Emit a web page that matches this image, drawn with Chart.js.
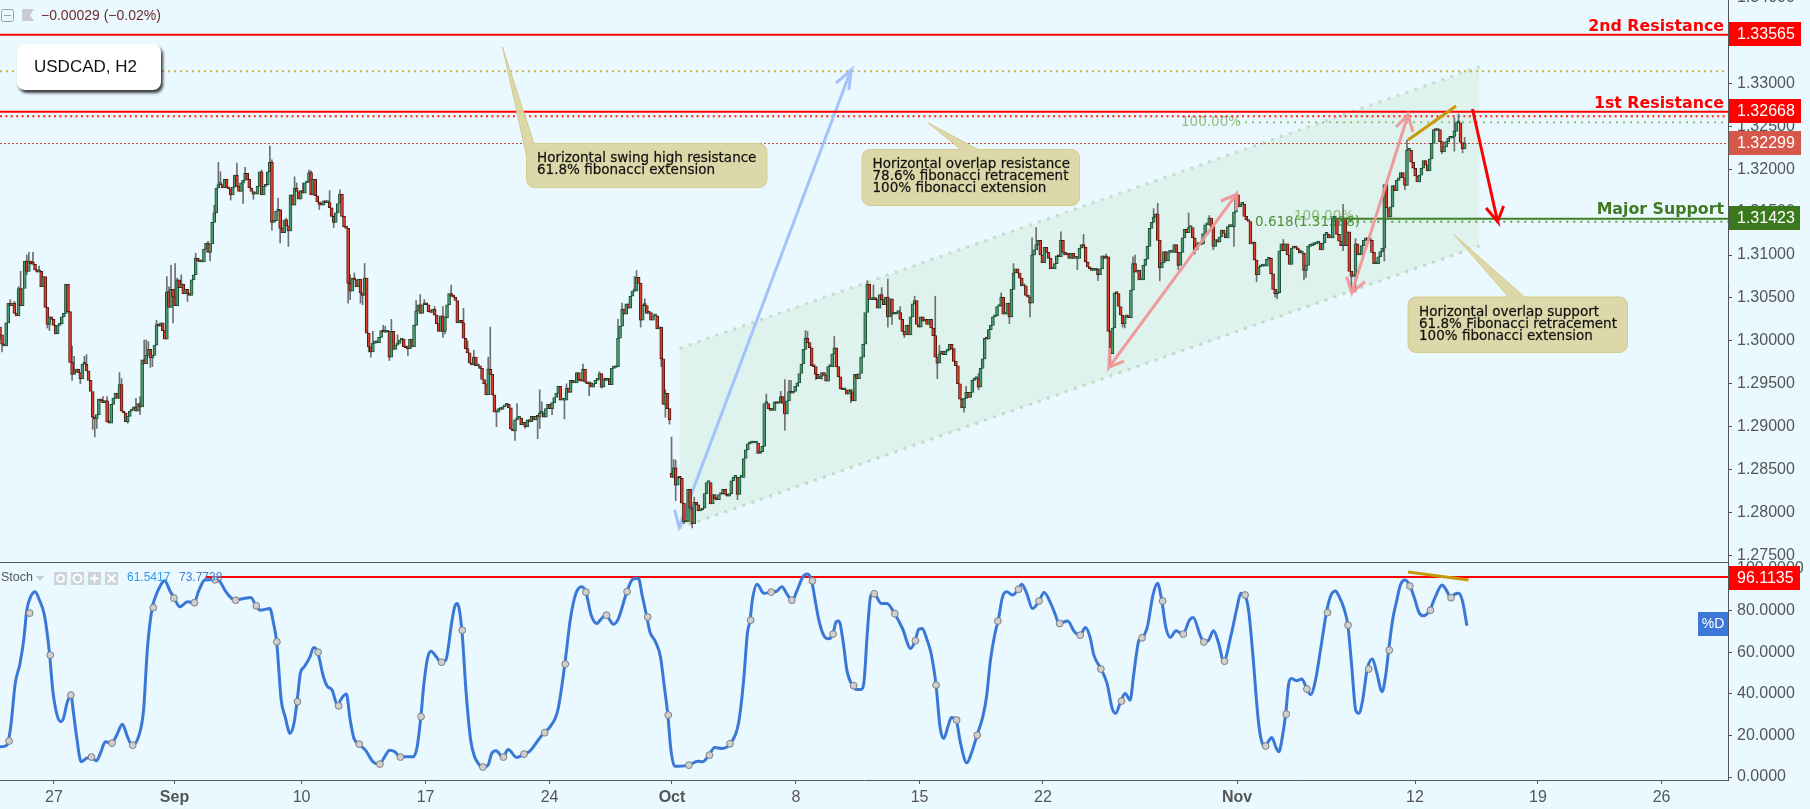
<!DOCTYPE html>
<html><head><meta charset="utf-8">
<style>html,body{margin:0;padding:0;background:#e9f9ff;overflow:hidden}canvas{display:block}</style>
<script src="https://cdn.jsdelivr.net/npm/chart.js@4/dist/chart.umd.js"></script>
</head><body><canvas id="c" width="1810" height="809"></canvas>
<script>
// ---- price data: closes in pips (1.3007 = 13007), one per 2-hour bar
const closePips=[
13007,12996,12994,13021,13044,13041,13044,13032,13029,13061,
13041,13061,13093,13081,13093,13090,13089,13083,13080,13081,
13063,13075,13039,13019,13028,13025,13018,13008,13018,13020,
13028,13032,13066,13034,12975,12961,12964,12967,12963,12956,
12973,12973,12965,12954,12941,12911,12909,12914,12932,12930,
12928,12930,12906,12904,12926,12933,12939,12933,12949,12918,
12916,12906,12912,12918,12920,12923,12918,12927,12923,12978,
12973,12983,12990,12980,12983,12995,13019,13017,13021,13012,
13002,13057,13039,13060,13051,13041,13071,13062,13066,13055,
13060,13055,13053,13071,13077,13096,13093,13092,13092,13107,
13114,13103,13113,13138,13149,13178,13182,13182,13178,13188,
13178,13177,13170,13179,13193,13180,13174,13184,13187,13195,
13188,13178,13174,13171,13171,13180,13197,13170,13180,13182,
13197,13208,13138,13140,13151,13153,13131,13126,13141,13134,
13128,13170,13158,13178,13174,13165,13175,13172,13184,13185,
13196,13170,13188,13169,13162,13159,13158,13163,13161,13161,
13155,13145,13138,13149,13160,13171,13145,13133,13131,13067,
13058,13073,13071,13063,13072,13056,13053,13073,13009,12993,
12987,12997,12998,12998,13004,13012,13010,13010,13011,12981,
13011,12990,12995,12997,13001,13002,12993,12992,12991,13002,
12993,13018,13035,13042,13032,13042,13043,13042,13034,13033,
13037,13030,13020,13011,13029,13011,13027,13042,13055,13052,
13051,13047,13021,13024,13021,13003,12991,12986,12974,12972,
12981,12971,12971,12968,12955,12950,12937,12967,12961,12937,
12917,12917,12921,12920,12923,12925,12926,12922,12897,12895,
12908,12910,12910,12902,12905,12900,12908,12906,12912,12908,
12912,12911,12916,12916,12911,12921,12926,12921,12928,12934,
12939,12947,12931,12931,12931,12945,12940,12954,12951,12951,
12963,12954,12953,12967,12952,12950,12951,12946,12950,12954,
12955,12962,12946,12956,12954,12956,12949,12968,12969,12970,
13003,13017,13037,13031,13043,13038,13052,13058,13058,13074,
13067,13024,13042,13041,13032,13033,13024,13029,13029,13014,
13016,12979,12926,12939,12921,12908,12841,12852,12832,12841,
12840,12811,12789,12789,12827,12805,12787,12812,12809,12802,
12803,12805,12822,12835,12835,12810,12821,12816,12815,12821,
12822,12827,12821,12819,12822,12837,12841,12841,12821,12841,
12841,12863,12873,12880,12881,12881,12881,12881,12869,12871,
12877,12927,12927,12921,12919,12919,12929,12927,12928,12935,
12927,12915,12930,12941,12939,12941,12947,12951,12962,12973,
12990,13003,12998,12992,12971,12970,12961,12956,12959,12963,
12960,12953,12970,12970,12985,12992,12970,12958,12944,12943,
12943,12938,12943,12941,12930,12961,12956,12962,12981,12996,
13033,13066,13048,13048,13049,13048,13038,13054,13048,13042,
13051,13028,13049,13031,13031,13033,13033,13025,13011,13007,
13018,13007,13028,13043,13047,13019,13016,13028,13023,13025,
13019,13025,13015,13006,12981,12974,12985,12988,12984,12988,
12989,12996,12991,12976,12971,12950,12932,12922,12933,12940,
12934,12940,12954,12956,12956,12946,12968,12979,13003,13002,
13013,13018,13028,13029,13040,13041,13051,13031,13031,13044,
13028,13060,13079,13084,13079,13073,13064,13064,13053,13051,
13044,13100,13106,13112,13117,13100,13091,13109,13103,13096,
13084,13084,13090,13099,13098,13117,13103,13100,13102,13096,
13102,13096,13096,13096,13108,13112,13109,13092,13086,13084,
13082,13082,13084,13077,13084,13099,13096,13098,13011,12985,
13015,13056,13055,13040,13030,13020,13028,13028,13027,13059,
13090,13080,13082,13071,13071,13088,13095,13110,13131,13138,
13144,13148,13117,13085,13091,13104,13093,13103,13103,13103,
13112,13103,13088,13103,13120,13130,13126,13132,13132,13120,
13106,13113,13112,13113,13125,13135,13135,13143,13133,13110,
13118,13115,13121,13129,13125,13120,13133,13133,13133,13150,
13170,13156,13159,13159,13145,13141,13139,13113,13115,13094,
13077,13086,13087,13087,13087,13095,13096,13078,13060,13055,
13056,13105,13113,13105,13113,13100,13089,13108,13110,13108,
13106,13102,13102,13082,13088,13110,13111,13112,13113,13114,
13114,13106,13114,13124,13124,13120,13120,13143,13143,13124,
13116,13111,13143,13111,13127,13081,13075,13076,13113,13100,
13100,13111,13117,13120,13117,13117,13103,13090,13090,13098,
13104,13108,13182,13155,13144,13156,13181,13175,13187,13190,
13196,13190,13181,13222,13222,13208,13201,13192,13185,13193,
13201,13210,13205,13198,13212,13230,13246,13245,13246,13232,
13220,13226,13232,13236,13236,13238,13244,13254,13254,13231,
13224,13230];
// opens equal the previous close except where the market gapped: [bar, open pips]
const gapOpens=[[0,13016],[326,12846]];
// notable wicks: [bar, extreme pips]
const upperWicks=[[5,13048],[7,13046],[9,13063],[10,13081],[13,13100],[14,13103],[16,13103],[19,13087],[35,12994],[36,12982],[41,12982],[42,12984],[50,12935],[52,12935],[58,12963],[59,12956],[66,12933],[68,12935],[70,13001],[71,13001],[72,12999],[76,13024],[81,13075],[82,13063],[83,13088],[85,13090],[86,13073],[88,13077],[95,13102],[101,13116],[104,13158],[106,13208],[107,13197],[115,13207],[119,13202],[127,13199],[131,13227],[132,13211],[135,13166],[139,13143],[143,13191],[144,13184],[147,13184],[150,13199],[151,13198],[160,13175],[165,13176],[170,13077],[172,13079],[177,13090],
[181,13011],[186,13018],[187,13017],[190,13025],[193,13007],[202,13047],[204,13054],[206,13048],[211,13040],[215,13040],[219,13065],[225,13038],[227,13000],[230,12989],[237,12981],[238,13016],[251,12927],[262,12943],[263,12929],[275,12950],[283,12973],[291,12964],[300,13025],[302,13044],[308,13075],[309,13082],[313,13049],[323,12943],[326,12888],[327,12862],[328,12861],[337,12818],
[372,12938],[379,12941],[381,12955],[383,12954],[384,12954],[391,13012],[392,13011],[405,13005],[421,13070],[424,13065],[428,13062],[431,13072],[437,13040],[444,13052],[454,13052],[456,12995],[469,12947],[475,12962],[486,13056],[492,13090],[501,13120],[503,13132],[515,13127],[526,13124],[537,13101],
[550,13098],[551,13100],[560,13154],[562,13160],[577,13149],[587,13146],[600,13171],[623,13118],[652,13159],[658,13119],[683,13234],[706,13260],[708,13264],[711,13237]];
const lowerWicks=[[0,13001],[1,12987],[13,13077],[23,13015],[24,13012],[35,12954],[39,12950],[45,12897],[46,12888],[47,12898],[62,12904],[68,12914],[73,12969],[74,12970],[84,13021],[91,13046],[102,13093],[112,13164],[118,13160],[123,13165],[132,13129],[136,13114],[140,13110],[155,13153],[162,13132],[169,13044],[170,13048],[175,13044],[176,13042],[179,12987],
[180,12981],[189,12977],[198,12983],[215,13004],[216,13008],[241,12900],[250,12884],[255,12898],[261,12886],[262,12898],[268,12914],[274,12909],[286,12936],[292,12945],[311,13016],[321,12970],[323,12911],[325,12903],[328,12814],[332,12787],[336,12782],[358,12815],
[381,12896],[396,12955],[399,12955],[413,12928],[431,13016],[433,13019],[439,13004],[455,12956],[468,12917],[475,12943],[490,13020],[500,13028],[523,13083],[533,13070],
[539,12970],[545,13016],[546,13015],[563,13070],[572,13083],[580,13101],[589,13106],[596,13120],[599,13110],[610,13069],[619,13051],[620,13049],[633,13071],[634,13074],[652,13105],[656,13061],[658,13057],[672,13093],[682,13176],[700,13218],[706,13221],[710,13219]];
// ---- stochastic %D: bar positions and values
const stochBars=[0,3.3,5.2,7.4,9.7,11.5,13,14.9,17.1,19.1,21.4,22.7,24.1,25.6,27.5,29.4,30.8,32.5,34.4,35.7,37.2,39.4,41.8,44.2,46.8,48.7,51.1,54.2,56.7,59.4,61.9,64.1,67.2,69.7,71.5,73.8,75.2,78,79.9,82.7,84.5,87.3,91,94.2,96.6,99.4,104.2,106.8,109.6,114.1,118.9,121.7,124.3,126.3,131,132.8,134.3,136.5,138.4,140.8,142.7,144.2,145.8,147.7,150.5,152.3,154.2,157,158.8,161.2,164,165.3,168.1,170,171.8,174.3,177.4,181.1,184.3,186.7,189.1,191.7,194.1,200.6,202.5,204.3,205.8,207.7,209.2,211.8,214,216.4,219.2,220.7,222,224.2,226.3,228.5,230.4,232.2,234.4,236.9,238.7,240.8,244.1,246.7,250.8,254.3,257.3,260.1,264,267.1,270.8,274.2,276.8,279.6,282.4,284.4,287,289.8,
291.3,294.1,297.8,300.2,304.3,307.1,309.9,311.7,314,315.5,318.2,320.6,322.5,324.2,325.7,327.5,329.4,334.4,338.7,341.1,344.1,347,350.4,354.5,358.5,361,362.8,364.1,365.2,367.5,370.8,374.3,377.1,379.5,382.3,384.6,387,389.8,392,394,395.7,397.7,400.3,402.2,404.3,405.9,407.2,409.3,411.1,413.9,416.1,418,419.5,421,422.8,424.3,427.8,430.6,434.3,438.1,442.1,444.2,446,447.7,449.8,452,454.4,456.3,458.1,460.4,461.8,464.1,466.3,469.3,471.5,474.3,477.1,478.9,480.8,483,484.5,486.7,488.6,491.6,494.2,496,498.4,501.2,504.4,506.8,510.1,512.4,514,518.3,521.6,524.3,526.9,529.1,531,534.5,537.4,539.9,541.5,544.1,546.2,548.6,550.4,552.9,554.3,556.9,559.7,561.9,564,565.9,568.1,570.9,574.2,577.4,579.2,
582.6,584.4,586.7,589.1,591.6,594,597.6,600.4,602.3,604.2,606.1,608,610.8,612.3,613.9,616.1,617.4,619.3,620.8,622.5,624.1,625.6,626.9,629.3,632,634.4,636.3,638.6,641,643.9,645.8,648.2,650.1,652.4,654.3,656.2,658.1,659.6,661.5,663.7,666.2,668.4,670.9,672.8,674.1,676,677.9,679.8,682.1,684.5,686.4,688.9,691.1,694,696.8,700,702.1,704.3,706.2,708.1,710,712.1];
const stochD=[14.5,15.3,24.2,45,54.6,65.8,80.2,86.7,89.1,85.1,78.6,70.6,58.6,41.8,30.6,26.6,28.2,35.4,39.4,30.6,19.3,7.3,8.9,9.4,7.8,11.3,16.9,16.3,20.2,25.4,19.3,15.3,19.3,32.2,61,81,85.9,92.3,94.3,89.1,86.2,81.8,84.3,83.8,89.9,94.7,95,93.9,89.1,85.1,85.9,86.3,82.3,80.2,81,73.8,65,37,29,21,25.8,36.2,49.8,53,57.8,62.3,60,48.2,43.7,41.8,34.2,37,39.9,27.4,18.6,15.8,12.9,7.3,6.2,9.7,12.9,12.1,9.7,9.7,14.5,29,45,57.8,60.5,57.8,55.2,56.2,73.8,81.8,83.4,70.6,40.2,17.7,9.7,6.5,4.6,5.7,11.3,12.6,9.6,13.2,9.4,11,12.6,16.1,21.3,24.2,32.2,54.3,75.4,88.3,91.5,88.9,77.8,73.8,
75.4,77.8,73.5,76.2,89.1,95,95.5,87.5,76.9,69.8,65,57.8,43.4,29.8,12.9,5.2,5.2,5.7,7.6,7.3,10.5,14.2,13.7,16,25.8,46.6,69,75.4,85,92.7,88.3,88.9,89.4,91.5,87.5,85,89.9,96.3,97.6,94.3,85,74.6,67.4,66.5,68.7,74.6,75,65,51.4,43.9,42.1,42.1,46.6,69,87.5,88.1,83.4,83.4,78.5,71.4,61.8,65.5,71,71.4,66.6,59.4,44.2,24.2,18.5,25,28.6,27.4,16.1,6.8,11.3,20.1,29,38.6,56.2,69,75,86.7,89.1,87.5,90.2,92.7,88.3,81,84.6,88.7,83.4,77.8,73.8,75,69.8,68.2,71.9,67.4,58.6,51.9,45,33,30.6,36.5,40.2,37,49.8,65.8,66.9,71.9,87.5,93.1,84.6,72.2,67.1,70.3,68.7,75.4,76.7,
68.2,64.9,65.8,70.3,64.2,55.7,68.2,81,88.3,87.5,80.2,61,27.4,17.7,14.9,17.7,19,14.5,12.1,19.3,30.2,45,47.4,46.3,47.1,42.3,39.7,46.6,61,79,86.7,89.4,86.7,81,73,53,32.2,30.6,37,51.9,56.7,49.8,41,49.8,61,75.4,84.3,92.3,94.7,91.8,86.7,79,77.5,80.2,86.7,92.3,89.9,86.2,87.9,88.3,84.3,72.7];
// grey markers on %D, one every ten bars starting at bar 4.4
const stochDotValues=[17.3,78.8,58.6,39.4,9.6,16.3,15.3,81.4,86,83.8,94.8,85,82.3,65,36.2,60,34.2,15.8,6.2,9.6,29,55.2,70.6,4.8,9.6,11,21.3,54.3,88.9,77.8,89.1,76.9,29.8,5.7,10.5,16,75.4,88.9,85,94.3,68.7,43.9,88.1,78.5,65.5,44.2,27.4,20.1,75,90.2,84.6,73.8,68.2,51.9,36.5,66.9,84.6,68.7,64.9,55.7,87.5,14.9,30.2,42.3,79,73,51.9,61,91.8,80.2,86.2];
// ---- axes
const xTickBars=[26.2,84.7,146.4,206.6,266.8,326.2,386.4,446.4,506.3,600.5,686.9,746.6,806.6];
const xTickLabels=['27','Sep','10','17','24','Oct','8','15','22','Nov','12','19','26'];
const xBoldLabels=['Sep','Oct','Nov'];
const priceTicks=[1.34,1.33,1.325,1.32,1.315,1.31,1.305,1.30,1.295,1.29,1.285,1.28,1.275];
const stochTicks=[100,80,60,40,20,0];
// ---- levels and drawings, in bar / value units
const secondResistance=1.33565, firstResistance=1.32668, majorSupport=1.31423, lastPrice=1.32299, stochLevel=96.1135;
const olivePrice=1.3314, redDotPrice=1.32616, fib100Price=1.32546, fib618Price=1.31388;
const channelBars=[329.9,718.2], channelTop=[1.29913,1.33193], channelBottom=[1.2782,1.31105];
const blueArrow=[[412.1,1.32922],[413.1,1.33155],[405.8,1.33003],[413.1,1.33155],[329.6,1.27832],[327.5,1.2803],[329.6,1.27832],[336.4,1.28088]];
const pinkArrowA=[[592.7,1.31629],[600.3,1.31707],[600,1.31524],[600.3,1.31707],[538.3,1.29692],[538.7,1.29917],[538.3,1.29692],[545.6,1.29765]];
const pinkArrowB=[[677.7,1.32491],[683.5,1.32631],[685.9,1.32433],[683.5,1.32631],[656.2,1.30561],[653.7,1.30747],[656.2,1.30561],[662.6,1.30689]];
const redArrow=[[714.8,1.32701],[727,1.31388],[721.4,1.31547],[727,1.31388],[729.9,1.31571]];
const orangeLine=[[683.5,1.3234],[706.8,1.32736]];
const orangeStochLine=[[683.5,98.6],[712.9,94.7]];
const XMAX=1728/2.06;

const closes=closePips.map(v=>v/1e4);
const gapMap=new Map(gapOpens);
const opens=closes.map((c,i)=>gapMap.has(i)?gapMap.get(i)/1e4:closes[i-1]);
const bodies=closes.map((c,i)=>({x:i,y:[opens[i],c]}));
const isUp=closes.map((c,i)=>c>=opens[i]);
const upperData=upperWicks.map(([i,v])=>({x:i,y:[Math.max(opens[i],closes[i]),v/1e4]}));
const lowerData=lowerWicks.map(([i,v])=>({x:i,y:[Math.min(opens[i],closes[i]),v/1e4]}));
const pts=a=>a.map(([x,y])=>({x,y}));
const hline=(from,y,to=XMAX)=>[{x:from,y},{x:to,y}];
const hlinePts=(xs,ys)=>xs.map((x,i)=>({x,y:ys[i]}));
const ln=(data,color,width,extra={})=>Object.assign({type:'line',data,borderColor:color,borderWidth:width,pointRadius:0,tension:0,fill:false,order:1,yAxisID:'y'},extra);

const panelBg='#e9f9ff';
const bgPlugin={id:'bg',beforeDraw(ch){const c=ch.ctx;c.save();c.fillStyle=panelBg;c.fillRect(0,0,ch.width,ch.height);c.restore();}};

function callout(c,box,tail,lines,tx,ty){
  const [l,t,r,b]=box;
  c.save();
  c.fillStyle='rgba(219,213,163,0.93)';c.strokeStyle='#d6cb8c';c.lineWidth=1;
  c.beginPath();c.roundRect(l,t,r-l,b-t,8);c.fill();c.stroke();
  c.beginPath();c.moveTo(tail[0][0],tail[0][1]);tail.slice(1).forEach(p=>c.lineTo(p[0],p[1]));c.closePath();c.fill();
  c.strokeStyle='#d6cb8c';c.beginPath();c.moveTo(tail[1][0],tail[1][1]);c.lineTo(tail[0][0],tail[0][1]);c.lineTo(tail[2][0],tail[2][1]);c.stroke();
  c.fillStyle='#111';c.strokeStyle='rgba(17,17,17,.55)';c.lineWidth=.4;c.font='13.5px "DejaVu Sans"';c.textBaseline='middle';c.textAlign='left';
  lines.forEach((s,i)=>{c.fillText(s,tx,ty+i*12);c.strokeText(s,tx,ty+i*12);});
  c.restore();
}
function priceBox(c,text,y0,y1,bg,right=1801){
  c.save();c.fillStyle=bg;c.fillRect(1729,y0,right-1729,y1-y0);
  c.fillStyle='#fff';c.font='16px "Liberation Sans"';c.textAlign='left';c.textBaseline='middle';
  c.fillText(text,1737,(y0+y1)/2+.5);c.restore();
}
const fibTextPlugin={id:'fibText',beforeDatasetsDraw(ch){const c=ch.ctx;c.save();
  c.font='13.5px "DejaVu Sans"';c.textBaseline='middle';c.textAlign='left';
  c.fillStyle='#8fc17c';c.fillText('100.00%',1181,122.7);c.fillText('100.00%',1294,216.5);
  c.fillStyle='#4f8f3c';c.fillText('0.618(1.31388)',1255,222.7);
  c.restore();}};
const overlayPlugin={id:'overlay',afterDraw(ch){const c=ch.ctx;
  // separator between panes
  c.save();c.strokeStyle='#555';c.lineWidth=1;c.beginPath();c.moveTo(0,562.5);c.lineTo(1728,562.5);c.stroke();c.restore();
  // top-left legend
  c.save();c.strokeStyle='#9aa0a6';c.lineWidth=1;c.beginPath();c.roundRect(1.5,9.5,12,12,2);c.moveTo(4,15.5);c.lineTo(11,15.5);c.stroke();
  c.fillStyle='#c9ccd6';c.beginPath();c.moveTo(22,9);c.lineTo(34,9);c.lineTo(30,15);c.lineTo(34,21);c.lineTo(22,21);c.closePath();c.fill();
  c.fillStyle='#6d2b2b';c.font='14px "Liberation Sans"';c.textBaseline='middle';c.textAlign='left';c.fillText('\u22120.00029 (\u22120.02%)',41,16);c.restore();
  // symbol box
  c.save();c.shadowColor='rgba(0,0,0,.75)';c.shadowOffsetX=2;c.shadowOffsetY=3;c.shadowBlur=3;c.fillStyle='#fff';c.beginPath();c.roundRect(17,44,144,46,8);c.fill();c.restore();
  c.save();c.fillStyle='#111';c.font='17px "Liberation Sans"';c.textBaseline='middle';c.textAlign='left';c.fillText('USDCAD, H2',34,67.5);c.restore();
  // callouts
  callout(c,[526.5,143.5,767,187.5],[[502.5,47],[534,143.5],[526.5,156]],['Horizontal swing high resistance','61.8% fibonacci extension'],537,158);
  callout(c,[862,149.5,1079.5,205.5],[[927.5,122.5],[961.5,150],[979,150]],['Horizontal overlap resistance','78.6% fibonacci retracement','100% fibonacci extension'],872.5,164.5);
  callout(c,[1408,297,1627.5,352.5],[[1454,234.5],[1509,297.5],[1525,297.5]],['Horizontal overlap support','61.8% Fibonacci retracement','100% fibonacci extension'],1419,312);
  // level labels
  c.save();c.font='bold 15.8px "DejaVu Sans"';c.textAlign='right';c.textBaseline='alphabetic';
  c.fillStyle='#ff0000';c.fillText('2nd Resistance',1724,31);c.fillText('1st Resistance',1724,108);
  c.fillStyle='#3f7a22';c.fillText('Major Support',1724,214);c.restore();
  // axis value boxes
  priceBox(c,'1.33565',22,46,'#ff0000');
  priceBox(c,'1.32668',99,123,'#ff0000');
  priceBox(c,'1.32299',131,155,'#d6584a');
  priceBox(c,'1.31423',206,230,'#3b781d',1800);
  priceBox(c,'96.1135',566,590,'#ff0000',1800);
  c.save();c.fillStyle='#3d78d8';c.fillRect(1698,612,30,24);c.fillStyle='#fff';c.font='14px "Liberation Sans"';c.textAlign='center';c.textBaseline='middle';c.fillText('%D',1713,624.5);c.restore();
  // stochastic legend
  c.save();c.fillStyle='#555';c.font='12.5px "Liberation Sans"';c.textBaseline='middle';c.textAlign='left';c.fillText('Stoch',1,578);
  c.fillStyle='#c8ccd0';c.beginPath();c.moveTo(36,576);c.lineTo(44,576);c.lineTo(40,581);c.closePath();c.fill();
  [54,71,88,105].forEach((x,i)=>{c.fillStyle='#ccd4da';c.fillRect(x,572,13,13);c.strokeStyle='#fff';c.fillStyle='#fff';c.lineWidth=2;c.beginPath();
    const m=x+6.5,n=578.5;
    if(i===0){c.arc(m,n,3.5,0,7);c.stroke();}
    if(i===1){c.arc(m,n,4,0,7);c.stroke();}
    if(i===2){c.moveTo(m-4,n);c.lineTo(m+4,n);c.moveTo(m,n-4);c.lineTo(m,n+4);c.stroke();}
    if(i===3){c.moveTo(m-4,n-4);c.lineTo(m+4,n+4);c.moveTo(m+4,n-4);c.lineTo(m-4,n+4);c.stroke();}
  });
  c.font='12px "Liberation Sans"';c.fillStyle='#2f9bf0';c.fillText('61.5417',127,578);c.fillStyle='#4a7fd0';c.fillText('73.7738',179,578);c.restore();
}};

new Chart(document.getElementById('c'),{
  data:{datasets:[
    // channel
    ln(hlinePts(channelBars,channelBottom),'#c6ddcb',3,{borderDash:[3,6.5],order:60,label:'channel low'}),
    ln(hlinePts(channelBars,channelTop),'#c6ddcb',3,{borderDash:[3,6.5],order:59,label:'channel high',fill:{target:0},backgroundColor:'rgba(90,149,12,0.07)'}),
    // horizontal reference levels
    ln(hline(0,olivePrice),'#c9b43c',2,{borderDash:[2,4],order:50,label:'dotted 1'}),
    ln(hline(0,redDotPrice),'#ff2020',2,{borderDash:[2,3.4],order:50,label:'dotted 2'}),
    ln(hline(0,lastPrice),'#c8473a',1,{borderDash:[2,2],order:50,label:'last'}),
    ln(hline(601,fib100Price),'#8cc47c',2,{borderDash:[2,5],order:50,label:'fib 100'}),
    ln(hline(655,fib618Price),'#5f9e46',2,{borderDash:[2,5],order:50,label:'fib 61.8'}),
    // candles
    {type:'bar',label:'wicks up',data:upperData,backgroundColor:'#6f6f6f',barThickness:1,grouped:false,order:21,yAxisID:'y'},
    {type:'bar',label:'wicks down',data:lowerData,backgroundColor:'#6f6f6f',barThickness:1,grouped:false,order:21,yAxisID:'y'},
    {type:'bar',label:'USDCAD',data:bodies,grouped:false,barThickness:3,minBarLength:2,borderWidth:1,borderSkipped:false,
      backgroundColor:isUp.map(u=>u?'#4a9a72':'#e03c2a'),borderColor:isUp.map(u=>u?'#1d4f35':'#511810'),order:20,yAxisID:'y'},
    // key levels
    ln(hline(0,secondResistance),'#ff0000',2,{order:5,label:'2nd Resistance'}),
    ln(hline(0,firstResistance),'#ff0000',2,{order:5,label:'1st Resistance'}),
    ln(hline(647.6,majorSupport),'#3f7f25',2,{order:5,label:'Major Support'}),
    // drawings
    ln(pts(blueArrow),'rgba(160,192,250,.95)',3,{order:30,label:'blue arrow'}),
    ln(pts(pinkArrowA),'rgba(240,150,150,.95)',3,{order:4,label:'pink arrow A'}),
    ln(pts(pinkArrowB),'rgba(240,150,150,.95)',3,{order:4,label:'pink arrow B'}),
    ln(pts(redArrow),'#ff0000',3,{order:3,label:'red arrow'}),
    ln(pts(orangeLine),'#c89a0a',3,{order:3,label:'orange'}),
    // stochastic pane
    ln(hline(100,stochLevel),'#ff0000',2,{order:6,yAxisID:'y2',label:'stoch level'}),
    ln(stochBars.map((x,i)=>({x,y:stochD[i]})),'#3a78d8',3,{order:5,yAxisID:'y2',label:'%D',cubicInterpolationMode:'monotone'}),
    ln(stochDotValues.map((y,i)=>({x:4.4+10*i,y})),'#7d7d7d',1,{order:4,yAxisID:'y2',showLine:false,label:'markers',pointRadius:3.4,pointBackgroundColor:'#cfcfcf',pointBorderColor:'#7d7d7d',pointBorderWidth:1}),
    ln(pts(orangeStochLine),'#c89a0a',3,{order:3,yAxisID:'y2',label:'orange stoch'}),
  ]},
  plugins:[bgPlugin,fibTextPlugin,overlayPlugin],
  options:{
    responsive:false,animation:false,devicePixelRatio:1,normalized:false,
    layout:{padding:0,autoPadding:false},
    plugins:{legend:{display:false},tooltip:{enabled:false}},
    elements:{point:{radius:0}},
    scales:{
      x:{type:'linear',min:0,max:XMAX,offset:false,
        afterBuildTicks(s){s.ticks=xTickBars.map(value=>({value}));},
        afterFit(s){s.height=29;s.paddingLeft=0;s.paddingRight=0;},
        grid:{display:true,drawOnChartArea:false,drawTicks:true,tickLength:4,color:'#555',offset:false},
        border:{display:true,color:'#555'},
        ticks:{autoSkip:false,maxRotation:0,padding:4,color:'#555',
          callback:(v,i)=>xTickLabels[i],
          font:ctx=>({family:'"Liberation Sans"',size:16,weight:xBoldLabels.includes(xTickLabels[ctx.index])?'bold':'normal'})}},
      y:{type:'linear',position:'right',stack:'panes',stackWeight:562,weight:1,min:1.27424,max:1.339703,
        afterBuildTicks(s){s.ticks=priceTicks.map(value=>({value}));},
        afterFit(s){s.width=82;s.paddingTop=0;s.paddingBottom=0;},
        grid:{display:true,drawOnChartArea:false,tickLength:4,color:'#555'},
        border:{display:true,color:'#555'},
        ticks:{autoSkip:false,padding:5,color:'#555',font:{family:'"Liberation Sans"',size:16},callback:v=>v.toFixed(5)}},
      y2:{type:'linear',position:'right',stack:'panes',stackWeight:218,weight:2,min:-1.44,max:103.37,
        afterBuildTicks(s){s.ticks=stochTicks.map(value=>({value}));},
        afterFit(s){s.width=82;s.paddingTop=0;s.paddingBottom=0;},
        grid:{display:true,drawOnChartArea:false,tickLength:4,color:'#555'},
        border:{display:true,color:'#555'},
        ticks:{autoSkip:false,padding:5,color:'#555',font:{family:'"Liberation Sans"',size:16},callback:v=>v.toFixed(4)}}
    }
  }
});
</script></body></html>
